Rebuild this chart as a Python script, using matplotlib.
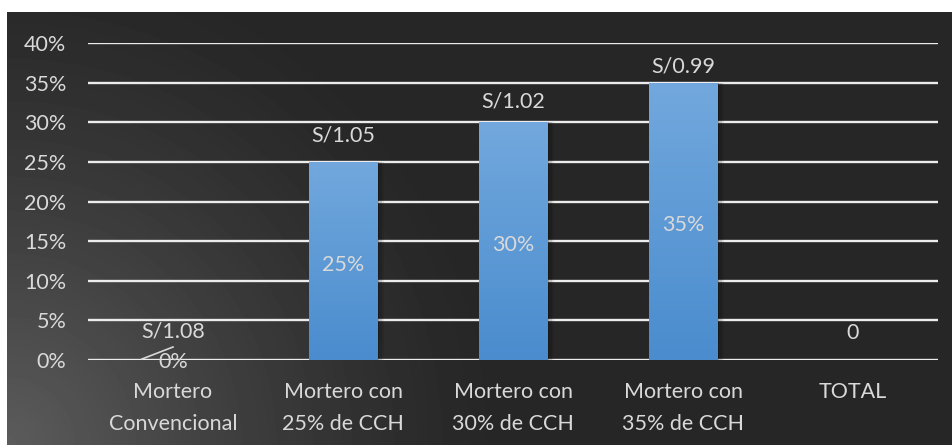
import numpy as np
import matplotlib
matplotlib.use("Agg")
import matplotlib.pyplot as plt
from matplotlib.colors import LinearSegmentedColormap

plt.rcParams['font.family'] = ['Lato', 'DejaVu Sans']

categories = ["Mortero\nConvencional", "Mortero con\n25% de CCH", "Mortero con\n30% de CCH",
              "Mortero con\n35% de CCH", "TOTAL"]
porcentaje = [0, 25, 30, 35, 0]
costo_labels = ["S/1.08", "S/1.05", "S/1.02", "S/0.99", "0"]
yticks = [0, 5, 10, 15, 20, 25, 30, 35, 40]

# label offsets above each bar, in pixels
costo_offset = [29, 26, 21, 16, 27]

txt = '#d9d9d9'
fs = 15.5
W, H = 953, 445
fig = plt.figure(figsize=(W / 100, H / 100), dpi=100, facecolor='white')

# dark panel with a soft light spot in the lower-left corner
bg = fig.add_axes([7 / W, 0, (W - 7) / W, (H - 12) / H])
bg.set_axis_off()
yy, xx = np.mgrid[0:433, 0:946]
r = np.hypot(xx - 0, yy - 433) / 500.0
shade = np.clip(1 - r, 0, 1) ** 1.3
img = 0x26 / 255 + shade * (0x5c - 0x26) / 255
bg.imshow(img, cmap='gray', vmin=0, vmax=1, aspect='auto', interpolation='bilinear')

ax = fig.add_axes([88 / W, (H - 360) / H, 850 / W, 317 / H])
ax.patch.set_alpha(0)
for s in ax.spines.values():
    s.set_visible(False)

x = np.arange(len(categories))
ax.set_xlim(-0.5, len(categories) - 0.5)
ax.set_ylim(0, 40)

for t in yticks:
    ax.axhline(t, color='#ececec', lw=1.7, zorder=1)

bw = 0.405
blue = LinearSegmentedColormap.from_list('b', ['#4a8cce', '#72a8dd'])
grad = np.linspace(0, 1, 200).reshape(-1, 1)
for xi, v in zip(x, porcentaje):
    if v <= 0:
        continue
    # faint drop shadow on the right side
    for k, a in enumerate([0.18, 0.12, 0.07]):
        ax.bar(xi + 0.012 * (k + 1), v, bw, color='black', alpha=a, zorder=2, lw=0)
    b = ax.bar(xi, v, bw, color='#5b9bd5', zorder=3, lw=0)[0]
    im = ax.imshow(grad, cmap=blue, extent=[xi - bw / 2, xi + bw / 2, 0, v],
                   origin='lower', aspect='auto', zorder=3.5)
    im.set_clip_path(b)
    ax.text(xi, v / 2 - 0.5, f"{v}%", ha='center', va='center', color=txt,
            fontsize=fs, zorder=5)

ax.set_xlim(-0.5, len(categories) - 0.5)
ax.set_ylim(0, 40)

for xi, v, lab, off in zip(x, porcentaje, costo_labels, costo_offset):
    ax.annotate(lab, (xi, v), xytext=(0, off), textcoords='offset pixels',
                ha='center', va='center', color=txt, fontsize=fs, zorder=5)

# zero label of the first bar, pulled aside with a leader line
p0 = ax.transData.transform((x[0], porcentaje[0]))
ax.annotate("0%", (x[0], porcentaje[0]), xytext=(0, -2), textcoords='offset pixels',
            ha='center', va='center', color=txt, fontsize=fs, zorder=5)
seg = ax.transData.inverted().transform([p0 + (-31, 1), p0 + (0, 13)])
ax.plot(seg[:, 0], seg[:, 1], color=txt, lw=1.2, zorder=5)

ax.set_yticks(yticks)
ax.set_yticklabels([f"{t}%" for t in yticks])
ax.set_xticks(x)
ax.set_xticklabels(categories, linespacing=1.75)
ax.tick_params(length=0, labelsize=fs, colors=txt)
ax.tick_params(axis='y', pad=15.5)
ax.tick_params(axis='x', pad=16)

fig.savefig("out.png", dpi=100, facecolor='white')
